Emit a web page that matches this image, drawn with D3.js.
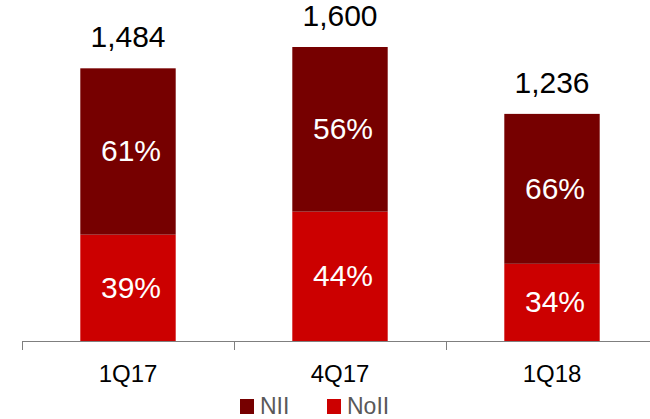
<!DOCTYPE html>
<html><head><meta charset="utf-8">
<script src="https://cdn.jsdelivr.net/npm/d3@7"></script>
<style>body{margin:0;background:#fff}svg{display:block;font-family:"Liberation Sans",Arial,sans-serif}</style>
</head><body><svg id="c" width="650" height="419"></svg>
<script>
const categories = ["1Q17", "4Q17", "1Q18"];
const totals = [1484, 1600, 1236];
const niiPct = [61, 56, 66];
const noiiPct = [39, 44, 34];
const seriesNames = ["NII", "NoII"];
const colors = {NII: "#760000", NoII: "#CC0000"};

const svg = d3.select("#c");
const x = d3.scaleBand().domain(categories).range([22, 658]).paddingInner(0.55).paddingOuter(0.275);
const y = d3.scaleLinear().domain([0, 1600]).range([341, 47]);

const rows = categories.map((c, i) => ({cat: c, total: totals[i], NoII: totals[i] * noiiPct[i] / 100, NII: totals[i] * niiPct[i] / 100, pNII: niiPct[i], pNoII: noiiPct[i]}));
const stack = d3.stack().keys(["NoII", "NII"])(rows);

stack.forEach(layer => {
  svg.append("g").selectAll("rect").data(layer).join("rect")
    .attr("x", d => x(d.data.cat)).attr("width", x.bandwidth())
    .attr("y", d => y(d[1])).attr("height", d => y(d[0]) - y(d[1]))
    .attr("fill", colors[layer.key]);
  svg.append("g").selectAll("text").data(layer).join("text")
    .attr("x", d => x(d.data.cat) + x.bandwidth() / 2 + 3)
    .attr("y", d => (y(d[0]) + y(d[1])) / 2 + 10)
    .attr("text-anchor", "middle").attr("fill", "#fff").attr("font-size", 30)
    .text(d => d.data["p" + layer.key] + "%");
});

svg.append("g").selectAll("text").data(rows).join("text")
  .attr("x", d => x(d.cat) + x.bandwidth() / 2).attr("y", d => y(d.total) - 21)
  .attr("text-anchor", "middle").attr("font-size", 30).attr("fill", "#000")
  .text(d => d3.format(",")(d.total));

// axis
const ax = svg.append("g");
ax.append("line").attr("x1", 22).attr("x2", 650).attr("y1", 341.5).attr("y2", 341.5).attr("stroke", "#7f7f7f").attr("stroke-width", 1);
const tickX = categories.map(c => x(c) + x.bandwidth() / 2 - x.step() / 2);
ax.selectAll("line.t").data(tickX).join("line").attr("class", "t")
  .attr("x1", d => Math.round(d) + 0.5).attr("x2", d => Math.round(d) + 0.5).attr("y1", 341).attr("y2", 350)
  .attr("stroke", "#7f7f7f");
ax.selectAll("text").data(categories).join("text")
  .attr("x", d => x(d) + x.bandwidth() / 2).attr("y", 382)
  .attr("text-anchor", "middle").attr("font-size", 24).attr("fill", "#000").text(d => d);

// legend
const leg = svg.append("g");
const legItems = [{k: "NII", x: 240}, {k: "NoII", x: 327}];
legItems.forEach(it => {
  leg.append("rect").attr("x", it.x).attr("y", 399).attr("width", 14).attr("height", 15).attr("fill", colors[it.k]);
  leg.append("text").attr("x", it.x + 20).attr("y", 414).attr("font-size", 23).attr("fill", "#595959").text(it.k);
});
</script></body></html>
